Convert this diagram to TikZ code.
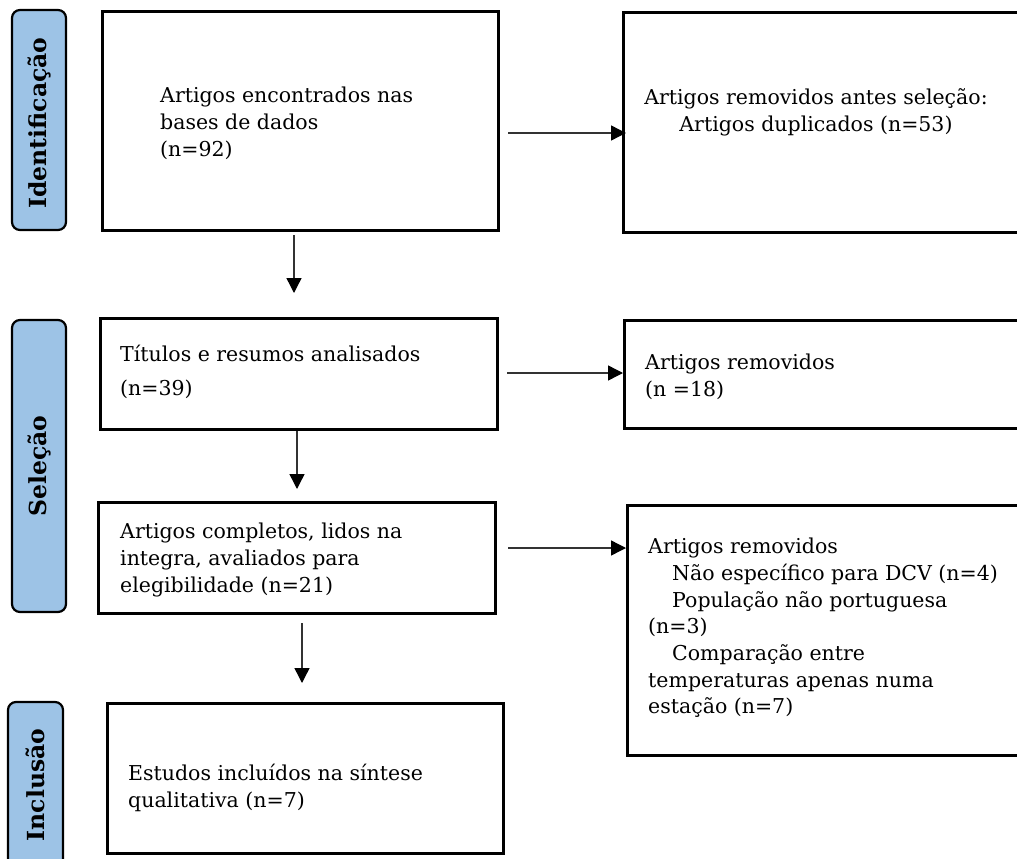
\documentclass[tikz,border=0pt]{standalone}
\usepackage{fontspec}
\setmainfont{DejaVu Serif}
\usetikzlibrary{arrows.meta,fit}
\definecolor{lblue}{HTML}{9DC3E6}
\begin{document}
\begin{tikzpicture}[x=1pt,y=-1pt,
  box/.style={draw=black, line width=3pt, inner sep=0pt},
  lbl/.style={draw=black, line width=2.2pt, fill=lblue, rounded corners=8pt, inner sep=0pt},
  ltxt/.style={rotate=90, font=\bfseries\fontsize{23.5}{28}\selectfont, inner sep=0pt},
  txt/.style={anchor=west, align=left, inner sep=0pt, font=\fontsize{20.5}{26.7}\selectfont},
  arr/.style={line width=1.4pt, draw=black!80, -{Triangle[length=15pt,width=15pt,color=black,fill=black]}}]
\useasboundingbox (0,0) rectangle (1017,859);
\clip (0,0) rectangle (1017,859);
\fill[white] (0,0) rectangle (1017,859);

% stage labels
\node[lbl, fit={(12,10)(66,230)}] (l1) {};
\node[ltxt] (l1t) at (39,123) {Identificação};
\node[lbl, fit={(12,320)(66,612)}] (l2) {};
\node[ltxt] (l2t) at (l2.center) {Seleção};
\node[lbl, fit={(8,702)(63,872)}] (l3) {};
\node[ltxt] (l3t) at (35,785) {Inclusão};

% boxes
\node[box, fit={(102,12)(498,230)}] (b1) {};
\node[box, fit={(623,13)(1030,232)}] (b2) {};
\node[box, fit={(100,318)(497,429)}] (b3) {};
\node[box, fit={(624,320)(1030,428)}] (b4) {};
\node[box, fit={(98,502)(495,613)}] (b5) {};
\node[box, fit={(627,505)(1030,755)}] (b6) {};
\node[box, fit={(107,703)(503,853)}] (b7) {};

% texts
\node[txt] (t1) at (160,123.5) {Artigos encontrados nas\\bases de dados\\(n=92)};
\node[txt, anchor=center, align=center] (t2) at (816,112) {Artigos removidos antes seleção:\\Artigos duplicados (n=53)};
\node[txt] (t3) at (120,372) {Títulos e resumos analisados\\[7pt](n=39)};
\node[txt] (t4) at (645,377) {Artigos removidos\\(n =18)};
\node[txt] (t5) at (120,560) {Artigos completos, lidos na\\integra, avaliados para\\elegibilidade (n=21)};
\node[txt] (t6) at (648,628) {Artigos removidos\\\hspace*{24pt}Não específico para DCV (n=4)\\\hspace*{24pt}População não portuguesa\\(n=3)\\\hspace*{24pt}Comparação entre\\temperaturas apenas numa\\estação (n=7)};
\node[txt] (t7) at (128,788) {Estudos incluídos na síntese\\qualitativa (n=7)};

% connectors
\coordinate (v1s) at (294,235); \coordinate (v1e) at (294,293);
\coordinate (v2s) at (297,431); \coordinate (v2e) at (297,489);
\coordinate (v3s) at (302,623); \coordinate (v3e) at (302,683);
\coordinate (h1s) at (508,133); \coordinate (h1e) at (626,133);
\coordinate (h2s) at (507,373); \coordinate (h2e) at (623,373);
\coordinate (h3s) at (508,548); \coordinate (h3e) at (626,548);
\draw[arr] (v1s) -- (v1e);
\draw[arr] (v2s) -- (v2e);
\draw[arr] (v3s) -- (v3e);
\draw[arr] (h1s) -- (h1e);
\draw[arr] (h2s) -- (h2e);
\draw[arr] (h3s) -- (h3e);
\end{tikzpicture}
\end{document}
